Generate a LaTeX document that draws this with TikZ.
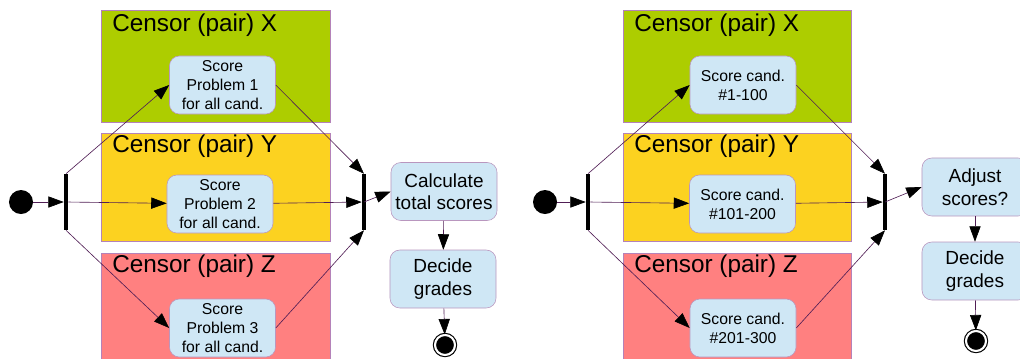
\documentclass[tikz,border=0pt]{standalone}
\usepackage{fontspec}
\setmainfont{Liberation Sans}
\usetikzlibrary{arrows.meta}
\definecolor{laneX}{RGB}{173,205,0}
\definecolor{laneY}{RGB}{252,210,32}
\definecolor{laneZ}{RGB}{255,128,128}
\definecolor{laneborder}{RGB}{180,130,185}
\definecolor{actfill}{RGB}{207,231,245}
\definecolor{actborder}{RGB}{185,150,190}
\definecolor{flowline}{RGB}{80,30,85}

\begin{document}
\begin{tikzpicture}[x=0.025cm, y=-0.025cm,
  lane/.style={draw=laneborder, line width=0.6pt},
  lanetitle/.style={anchor=base west, inner sep=0pt, font=\fontsize{17.3}{20}\selectfont},
  act/.style={rectangle, rounded corners=7pt, draw=actborder, fill=actfill, align=center,
    minimum width=2.65cm, minimum height=1.45cm, inner sep=1pt, font=\fontsize{11.2}{13.5}\selectfont},
  bigact/.style={act, font=\fontsize{13.5}{16}\selectfont},
  bar/.style={rectangle, fill=black, inner sep=0pt, minimum width=0.1cm, minimum height=1.4cm},
  startnode/.style={circle, fill=black, inner sep=0pt, minimum size=0.6cm},
  endnode/.style={circle, fill=black, draw=black, double=white, double distance=1.5pt,
    line width=0.8pt, inner sep=0pt, minimum size=0.5cm},
  flow/.style={draw=flowline, line width=0.45pt, -{Triangle[length=11pt,width=8pt,black]}}]
  \useasboundingbox (0,0) rectangle (1020,358);

  % swim lanes, left
  \filldraw[lane, fill=laneX] (101,10) rectangle (330,122);
  \filldraw[lane, fill=laneY] (101,133) rectangle (330,241);
  \filldraw[lane, fill=laneZ] (101,253) rectangle (330,365);
  \node[lanetitle] (aX) at (112,31.5) {Censor (pair) X};
  \node[lanetitle] (aY) at (112,152.5) {Censor (pair) Y};
  \node[lanetitle] (aZ) at (112,272.5) {Censor (pair) Z};

  % swim lanes, right
  \filldraw[lane, fill=laneX] (623,10) rectangle (851,122);
  \filldraw[lane, fill=laneY] (623,133) rectangle (851,241);
  \filldraw[lane, fill=laneZ] (623,253) rectangle (851,365);
  \node[lanetitle] (bX) at (634,31.5) {Censor (pair) X};
  \node[lanetitle] (bY) at (634,152.5) {Censor (pair) Y};
  \node[lanetitle] (bZ) at (634,272.5) {Censor (pair) Z};

  % left: by problem
  \node[startnode] (aS) at (21,202) {};
  \node[bar] (aF) at (66,202) {};
  \node[act] (a1) at (222.5,85) {Score\\Problem 1\\for all cand.};
  \node[act] (a2) at (220,204) {Score\\Problem 2\\for all cand.};
  \node[act] (a3) at (222.5,328) {Score\\Problem 3\\for all cand.};
  \node[bar] (aJ) at (364,202) {};
  \node[bigact] (aC) at (444,191.5) {Calculate\\total scores};
  \node[bigact] (aD) at (443,279) {Decide\\grades};
  \node[endnode] (aE) at (445,345) {};

  \draw[flow] (aS) -- (aF);
  \draw[flow] (aF.north) -- (a1.west);
  \draw[flow] (aF) -- (a2);
  \draw[flow] (aF.south) -- (a3.west);
  \draw[flow] (a1.east) -- (aJ.north);
  \draw[flow] (a2) -- (aJ);
  \draw[flow] (a3.east) -- (aJ.south);
  \draw[flow] (aJ.center) -- (aC.west);
  \draw[flow] (aC) -- (aD);
  \draw[flow] (aD) -- (aE);

  % right: by candidate
  \node[startnode] (bS) at (545,202) {};
  \node[bar] (bF) at (588,202) {};
  \node[act] (b1) at (743,85) {Score cand.\\\#1-100};
  \node[act] (b2) at (742.5,204) {Score cand.\\\#101-200};
  \node[act] (b3) at (743,328) {Score cand.\\\#201-300};
  \node[bar] (bJ) at (885,202) {};
  \node[bigact] (bC) at (975,187) {Adjust\\scores?};
  \node[bigact] (bD) at (975,271) {Decide\\grades};
  \node[endnode] (bE) at (976,341) {};

  \draw[flow] (bS) -- (bF);
  \draw[flow] (bF.north) -- (b1.west);
  \draw[flow] (bF) -- (b2);
  \draw[flow] (bF.south) -- (b3.west);
  \draw[flow] (b1.east) -- (bJ.north);
  \draw[flow] (b2) -- (bJ);
  \draw[flow] (b3.east) -- (bJ.south);
  \draw[flow] (bJ.center) -- (bC.west);
  \draw[flow] (bC) -- (bD);
  \draw[flow] (bD) -- (bE);
\end{tikzpicture}
\end{document}
